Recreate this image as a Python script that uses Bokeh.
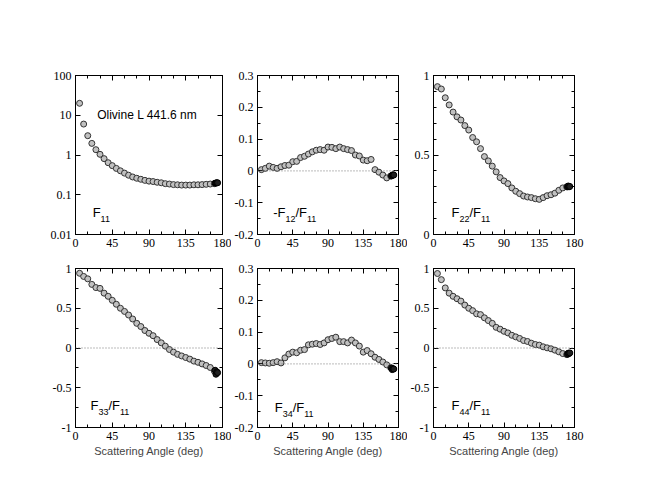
from bokeh.plotting import figure
from bokeh.layouts import gridplot
from bokeh.models import (Range1d, LinearAxis, LogAxis, FixedTicker,
                          CustomJSTickFormatter, Span, Label)
from bokeh.embed import file_html
from bokeh.resources import INLINE

# ---------------- data ----------------
angle = [5, 10, 15, 20, 25, 30, 35, 40, 45, 50, 55, 60, 65, 70, 75, 80, 85,
         90, 95, 100, 105, 110, 115, 120, 125, 130, 135, 140, 145, 150, 155,
         160, 165, 170]
back_angle = [171, 172, 173, 174]

f11 = [20.0, 6.0, 3.06, 1.96, 1.36, 1.04, 0.81, 0.64, 0.54, 0.46, 0.40, 0.35,
       0.31, 0.28, 0.26, 0.245, 0.23, 0.22, 0.215, 0.206, 0.20, 0.19, 0.186,
       0.18, 0.178, 0.175, 0.175, 0.175, 0.178, 0.178, 0.18, 0.183, 0.186, 0.19]
f11_back = [0.195, 0.198, 0.2, 0.2]

mf12 = [0.004, 0.008, 0.015, 0.011, 0.008, 0.013, 0.017, 0.018, 0.029, 0.030,
        0.042, 0.046, 0.053, 0.060, 0.065, 0.067, 0.065, 0.075, 0.074, 0.070,
        0.075, 0.070, 0.067, 0.064, 0.050, 0.047, 0.034, 0.032, 0.036, 0.004,
        -0.004, -0.013, -0.022, -0.016]
mf12_back = [-0.016, -0.014, -0.012, -0.013]

f22 = [0.93, 0.915, 0.86, 0.815, 0.77, 0.74, 0.72, 0.685, 0.657, 0.61, 0.583,
       0.54, 0.49, 0.463, 0.43, 0.394, 0.358, 0.337, 0.32, 0.293, 0.272, 0.257,
       0.242, 0.236, 0.232, 0.225, 0.221, 0.232, 0.244, 0.25, 0.26, 0.278,
       0.293, 0.30]
f22_back = [0.30, 0.305, 0.30, 0.302]

f33 = [0.94, 0.90, 0.87, 0.80, 0.76, 0.75, 0.69, 0.65, 0.60, 0.55, 0.50, 0.46,
       0.415, 0.365, 0.31, 0.27, 0.22, 0.185, 0.155, 0.106, 0.065, 0.023,
       -0.019, -0.052, -0.08, -0.10, -0.12, -0.14, -0.165, -0.18, -0.20, -0.22,
       -0.245, -0.29]
f33_back = [-0.28, -0.33, -0.30, -0.31]

f34 = [0.004, 0.003, 0.002, 0.004, 0.007, 0.003, 0.019, 0.031, 0.037, 0.035,
       0.043, 0.045, 0.060, 0.062, 0.064, 0.061, 0.066, 0.076, 0.080, 0.084,
       0.070, 0.070, 0.066, 0.075, 0.066, 0.056, 0.037, 0.042, 0.032, 0.021,
       0.014, 0.006, -0.003, -0.012]
f34_back = [-0.013, -0.018, -0.015, -0.016]

f44 = [0.937, 0.86, 0.756, 0.69, 0.65, 0.62, 0.59, 0.54, 0.50, 0.47, 0.43,
       0.42, 0.38, 0.345, 0.31, 0.26, 0.237, 0.21, 0.19, 0.16, 0.14, 0.12,
       0.094, 0.082, 0.06, 0.044, 0.036, 0.015, 0.002, -0.01, -0.027, -0.048,
       -0.07, -0.082]
f44_back = [-0.08, -0.065, -0.07, -0.062]

x_ticks = [0, 45, 90, 135, 180]
x_minor = [15, 30, 60, 75, 105, 120, 150, 165]

# ---------------- layout constants ----------------
COL_BL = [75, 21, 21]
COL_FW = [147, 146, 146]
COL_BR = [9, 9, 66]
ROW_BT = [75, 8]
ROW_FH = [159, 159]
ROW_BB = [26, 66]

SERIF = "Liberation Serif"
SANS = "Liberation Sans"
FMT = CustomJSTickFormatter(code="return String(parseFloat(tick.toFixed(3)));")
EMPTY = CustomJSTickFormatter(code="return '';")

CHAR_W = {"F": 0.611, "-": 0.333, "/": 0.278}


def text_w(s, size):
    return sum(CHAR_W.get(c, 0.556) for c in s) * size


def style_axis(ax, ticks, minor, labels=True):
    ax.ticker = FixedTicker(ticks=ticks, minor_ticks=minor)
    ax.major_tick_in = 5
    ax.major_tick_out = 0
    ax.minor_tick_in = 3
    ax.minor_tick_out = 0
    ax.axis_line_color = "black"
    ax.major_tick_line_color = "black"
    ax.minor_tick_line_color = "black"
    if labels:
        ax.formatter = FMT
        ax.major_label_text_font = SERIF
        ax.major_label_text_font_size = "12px"
        ax.major_label_text_color = "black"
        ax.major_label_standoff = 4
    else:
        ax.formatter = EMPTY
        ax.major_label_standoff = 0


def panel(col, row, y, yb, yr, yticks, yminor, parts, lx, ly, log=False):
    w = COL_BL[col] + COL_FW[col] + COL_BR[col]
    h = ROW_BT[row] + ROW_FH[row] + ROW_BB[row]
    p = figure(width=w, height=h, x_range=Range1d(0, 180),
               y_range=Range1d(*yr), y_axis_type="log" if log else "linear",
               output_backend="svg", toolbar_location=None,
               min_border_left=COL_BL[col], min_border_right=COL_BR[col],
               min_border_top=ROW_BT[row], min_border_bottom=ROW_BB[row])
    p.grid.visible = False
    p.outline_line_color = "black"
    p.outline_line_width = 1
    p.background_fill_color = "white"
    p.border_fill_color = "white"
    style_axis(p.xaxis[0], x_ticks, x_minor)
    style_axis(p.yaxis[0], yticks, yminor)
    if row == 1:
        p.xaxis[0].axis_label = "Scattering Angle (deg)"
        p.xaxis[0].axis_label_text_font = SANS
        p.xaxis[0].axis_label_text_font_size = "11px"
        p.xaxis[0].axis_label_text_font_style = "normal"
        p.xaxis[0].axis_label_standoff = 2
    top = LinearAxis()
    style_axis(top, x_ticks, x_minor, labels=False)
    p.add_layout(top, "above")
    right = LogAxis() if log else LinearAxis()
    style_axis(right, yticks, yminor, labels=False)
    p.add_layout(right, "right")

    if not log and yr[0] < 0 < yr[1]:
        p.add_layout(Span(location=0, dimension="width", line_color="#777777",
                          line_dash="1 2", line_width=1))

    p.scatter(angle, y, size=6, fill_color="#c0c0c0", line_color="#333333",
              line_width=1)
    p.scatter(back_angle, yb, size=6, fill_color="#202020",
              line_color="black", line_width=1)

    # panel label with subscripts
    off = 0.0
    for txt, sub in parts:
        size = 9 if sub else 13
        p.add_layout(Label(x=lx, y=ly, x_offset=off, y_offset=-5 if sub else -3,
                           text=txt, text_font=SANS,
                           text_font_size=f"{size}px", text_color="black",
                           text_baseline="bottom", text_align="left"))
        off += text_w(txt, size)
    return p


p1 = panel(0, 0, f11, f11_back, (0.01, 100), [0.01, 0.1, 1, 10, 100], [],
           [("F", False), ("11", True)], 21, 0.027, log=True)
p1.add_layout(Label(x=26.5, y=8.1, y_offset=-3, text="Olivine L 441.6 nm",
                    text_font=SANS, text_font_size="12px", text_color="black",
                    text_baseline="bottom"))
p2 = panel(1, 0, mf12, mf12_back, (-0.2, 0.3),
           [-0.2, -0.1, 0, 0.1, 0.2, 0.3], [-0.15, -0.05, 0.05, 0.15, 0.25],
           [("-F", False), ("12", True), ("/F", False), ("11", True)],
           20, -0.146)
p3 = panel(2, 0, f22, f22_back, (0, 1), [0, 0.5, 1],
           [0.1, 0.2, 0.3, 0.4, 0.6, 0.7, 0.8, 0.9],
           [("F", False), ("22", True), ("/F", False), ("11", True)],
           23, 0.109)
p4 = panel(0, 1, f33, f33_back, (-1, 1), [-1, -0.5, 0, 0.5, 1],
           [-0.75, -0.25, 0.25, 0.75],
           [("F", False), ("33", True), ("/F", False), ("11", True)],
           18.4, -0.786)
p5 = panel(1, 1, f34, f34_back, (-0.2, 0.3),
           [-0.2, -0.1, 0, 0.1, 0.2, 0.3], [-0.15, -0.05, 0.05, 0.15, 0.25],
           [("F", False), ("34", True), ("/F", False), ("11", True)],
           22, -0.15)
p6 = panel(2, 1, f44, f44_back, (-1, 1), [-1, -0.5, 0, 0.5, 1],
           [-0.75, -0.25, 0.25, 0.75],
           [("F", False), ("44", True), ("/F", False), ("11", True)],
           23, -0.786)

grid = gridplot([[p1, p2, p3], [p4, p5, p6]], toolbar_location=None)
open("out.html", "w").write(file_html(grid, INLINE))
